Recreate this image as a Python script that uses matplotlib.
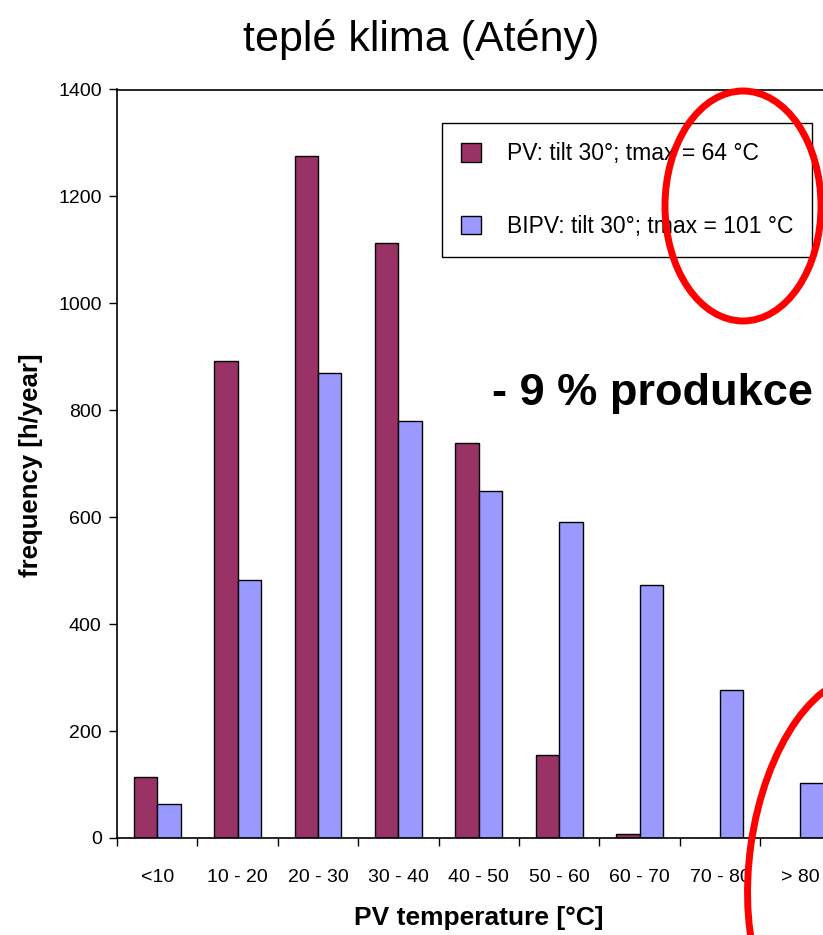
import matplotlib
matplotlib.use("Agg")
import matplotlib.pyplot as plt
import numpy as np
from matplotlib.patches import Ellipse
from matplotlib.transforms import IdentityTransform

categories = ["<10", "10 - 20", "20 - 30", "30 - 40", "40 - 50",
              "50 - 60", "60 - 70", "70 - 80", "> 80"]
pv_hours = [115, 892, 1276, 1113, 739, 155, 7, 0, 0]
bipv_hours = [64, 483, 870, 780, 649, 591, 473, 277, 102]
pv_label = "PV: tilt 30°; tmax = 64 °C"
bipv_label = "BIPV: tilt 30°; tmax = 101 °C"
y_ticks = [0, 200, 400, 600, 800, 1000, 1200, 1400]

W, H = 823, 935
plt.rcParams["font.family"] = ["Liberation Sans", "DejaVu Sans"]

fig = plt.figure(figsize=(W / 100, H / 100), dpi=100)
ax = fig.add_axes([117 / W, 1 - 838 / H, 9 * 80.4 / W, (838 - 89.5) / H])

x = np.arange(len(categories))
bw = 0.29
ax.bar(x - bw / 2, pv_hours, bw, color="#993366", edgecolor="black",
       linewidth=1.0, label=pv_label)
ax.bar(x + bw / 2, bipv_hours, bw, color="#9999FF", edgecolor="black",
       linewidth=1.0, label=bipv_label)

ax.set_xlim(-0.5, len(categories) - 0.5)
ax.set_ylim(0, 1400)
ax.set_yticks(y_ticks)
ax.set_xticks(x)
ax.set_xticklabels(categories, fontsize=14)
ax.set_xticks(np.arange(-0.5, len(categories), 1.0), minor=True)
ax.tick_params(axis="x", which="major", length=0, pad=22)
ax.tick_params(axis="x", which="minor", direction="out", length=6, width=1)
ax.tick_params(axis="y", direction="out", length=6, width=1,
               labelsize=14, pad=5)
ax.spines["right"].set_visible(False)
for s in ("left", "top", "bottom"):
    ax.spines[s].set_linewidth(1.2)

fig.text(421 / W, 1 - 40 / H, "teplé klima (Atény)", ha="center", va="center",
         fontsize=31)
fig.text(479 / W, 1 - 918 / H, "PV temperature [°C]", ha="center",
         va="center", fontsize=19, fontweight="bold")
fig.text(31 / W, 1 - 465 / H, "frequency [h/year]", ha="center", va="center",
         rotation=90, fontsize=18.5, fontweight="bold")
fig.text(652 / W, 1 - 393 / H, "- 9 % produkce", ha="center", va="center",
         fontsize=32.5, fontweight="bold")

leg = ax.legend(loc="upper left", bbox_to_anchor=(442 / W, 1 - 123 / H),
                bbox_transform=fig.transFigure, fontsize=16.5, frameon=True,
                fancybox=False, framealpha=1, edgecolor="black",
                handlelength=0.87, handleheight=0.87, handletextpad=1.1,
                labelspacing=2.15, borderpad=0.85, borderaxespad=0)
leg.get_frame().set_linewidth(1.0)

# red highlight rings drawn in pixel space
for cx, cy, w, h, ang in [(743, 206, 156, 230, 0), (845, 858, 190, 366, -8)]:
    ring = Ellipse((cx, H - cy), w, h, angle=ang, fill=False,
                   edgecolor="#FF0000", linewidth=5, transform=IdentityTransform(),
                   clip_on=False)
    fig.add_artist(ring)

fig.savefig("out.png", dpi=100)
